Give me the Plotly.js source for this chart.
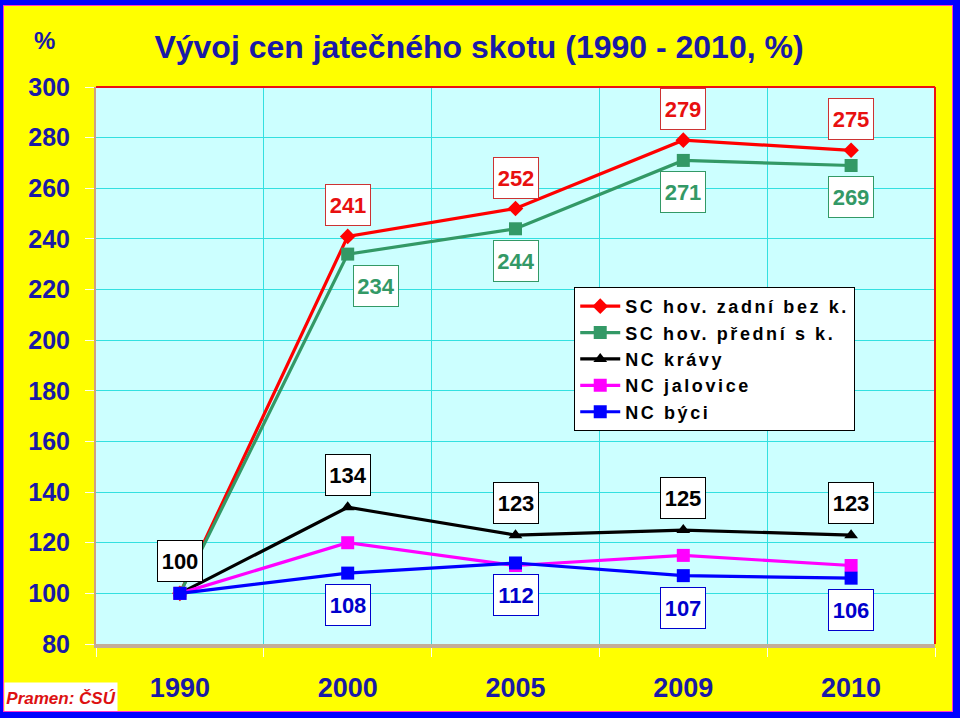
<!DOCTYPE html>
<html>
<head>
<meta charset="utf-8">
<script src="https://cdn.plot.ly/plotly-3.0.1.min.js"></script>
<style>
  html, body { margin: 0; padding: 0; background: #ffff00; }
  #wrap { position: relative; width: 960px; height: 718px; overflow: hidden; }
  #chart { position: absolute; left: 0; top: 0; width: 960px; height: 718px; }
  #frame { position: absolute; left: 0; top: 0; width: 960px; height: 718px; box-sizing: border-box;
           border-style: solid; border-color: #0000ff; border-width: 5px 7px 6px 3px; pointer-events: none; }
  #frame2 { position: absolute; left: 0; top: 0; right: 0; bottom: 0; border: 1.5px solid #ff33cc; }
  .legendtext { letter-spacing: 2.6px; }
</style>
</head>
<body>
<div id="wrap">
  <div id="chart"></div>
  <div id="frame"><div id="frame2"></div></div>
</div>
<script>
// ---- data ----
const years = ['1990', '2000', '2005', '2009', '2010'];
const seriesNames = ['SC hov. zadní bez k.', 'SC hov. přední s k.', 'NC krávy', 'NC jalovice', 'NC býci'];
const scZadni    = [100, 241, 252, 279, 275];
const scPredni   = [100, 234, 244, 271, 269];
const ncKravy    = [100, 134, 123, 125, 123];
const ncJalovice = [100, 120, 111, 115, 111];
const ncByci     = [100, 108, 112, 107, 106];
const yTicks = [80, 100, 120, 140, 160, 180, 200, 220, 240, 260, 280, 300];
const titleText = 'Vývoj cen jatečného skotu (1990 - 2010, %)';
const sourceText = 'Pramen: ČSÚ';

// which points carry value labels (index lists)
const labelIdxZadni  = [1, 2, 3, 4];
const labelIdxPredni = [1, 2, 3, 4];
const labelIdxKravy  = [0, 1, 2, 3, 4];
const labelIdxByci   = [1, 2, 3, 4];

const FONT = 'Liberation Sans, Arial, Helvetica, sans-serif';
const NAVY = '#1a1aa6';

const styles = [
  {color: '#ff0000', symbol: 'diamond', size: 12},
  {color: '#339966', symbol: 'square', size: 13},
  {color: '#000000', symbol: 'triangle-up', size: 12},
  {color: '#ff00ff', symbol: 'square', size: 13},
  {color: '#0000ff', symbol: 'square', size: 13}
];
const allSeries = [scZadni, scPredni, ncKravy, ncJalovice, ncByci];

const traces = allSeries.map((vals, i) => ({
  type: 'scatter', mode: 'lines+markers',
  x: years, y: vals, name: seriesNames[i],
  line: {color: styles[i].color, width: 3.2},
  marker: {color: styles[i].color, symbol: styles[i].symbol, size: styles[i].size, line: {width: 0}},
  hoverinfo: 'skip'
}));

function labels(vals, idxs, textColor, borderColor, yshift, xshiftFn) {
  return idxs.map(i => ({
    x: i, y: vals[i], xref: 'x', yref: 'y',
    text: String(vals[i]), showarrow: false,
    xanchor: 'center', yanchor: 'middle',
    xshift: xshiftFn ? xshiftFn(i) : 0, yshift: yshift,
    font: {family: FONT, size: 22, color: textColor, weight: 'bold'},
    bgcolor: '#ffffff', bordercolor: borderColor, borderwidth: 1, borderpad: 0,
    width: 44, height: 40
  }));
}

const annotations = [].concat(
  labels(scZadni, labelIdxZadni, '#e81010', '#cc3333', 31),
  labels(scPredni, labelIdxPredni, '#339966', '#339966', -32, i => (i === 1 ? 28 : 0)),
  labels(ncKravy, labelIdxKravy, '#000000', '#000000', 32),
  labels(ncByci, labelIdxByci, '#0000cc', '#0000cc', -32),
  [{
    xref: 'paper', yref: 'paper', x: -0.0415, y: -0.097, xanchor: 'center', yanchor: 'middle',
    text: '<i>' + sourceText + '</i>',
    showarrow: false, font: {family: FONT, size: 17, color: '#dd1111', weight: 'bold'},
    bgcolor: '#ffffff', borderpad: 0, width: 112, height: 30
  }, {
    xref: 'paper', yref: 'paper', x: -0.0608, y: 1.083, xanchor: 'center', yanchor: 'middle',
    text: '%',
    showarrow: false, font: {family: FONT, size: 24, color: NAVY, weight: 'bold'}
  }]
);

const layout = {
  width: 960, height: 718,
  paper_bgcolor: '#ffff00', plot_bgcolor: '#ccffff',
  margin: {l: 96, r: 25, t: 87, b: 74},
  title: {
    text: titleText, xref: 'container', yref: 'container',
    x: 479 / 960, y: 1 - 47 / 718, xanchor: 'center', yanchor: 'middle',
    font: {family: FONT, size: 32, color: NAVY, weight: 'bold'}
  },
  xaxis: {
    type: 'category', categoryorder: 'array', categoryarray: years,
    range: [-0.5, years.length - 0.5], autorange: false,
    tickson: 'boundaries', tickangle: 0,
    showgrid: true, gridcolor: '#33e0e0', gridwidth: 1,
    showline: true, linecolor: '#c4ae98', linewidth: 4,
    ticks: 'outside', ticklen: 9, tickcolor: '#ffffee', tickwidth: 1,
    ticklabelstandoff: 17,
    tickfont: {family: FONT, size: 27, color: NAVY, weight: 'bold'},
    zeroline: false, fixedrange: true
  },
  yaxis: {
    range: [80, 300], autorange: false, tickvals: yTicks, ticktext: yTicks.map(String),
    showgrid: true, gridcolor: '#33e0e0', gridwidth: 1,
    showline: true, linecolor: '#d0a080', linewidth: 2,
    ticks: 'outside', ticklen: 9, tickcolor: '#ffffee', tickwidth: 1,
    ticklabelstandoff: 10,
    tickfont: {family: FONT, size: 25, color: NAVY, weight: 'bold'},
    zeroline: false, fixedrange: true
  },
  shapes: [
    {type: 'line', xref: 'paper', yref: 'paper', x0: 0, x1: 1, y0: 1, y1: 1, line: {color: '#ee1111', width: 2}},
    {type: 'line', xref: 'paper', yref: 'paper', x0: 1, x1: 1, y0: 0, y1: 1, line: {color: '#ee1111', width: 2}}
  ],
  showlegend: true,
  legend: {
    x: 0.570, y: 0.641, xanchor: 'left', yanchor: 'top',
    bgcolor: '#ffffff', bordercolor: '#000000', borderwidth: 1,
    font: {family: FONT, size: 18, color: '#000000', weight: 'bold'},
    itemwidth: 40, tracegroupgap: 0
  },
  annotations: annotations
};

Plotly.newPlot('chart', traces, layout, {staticPlot: true, displayModeBar: false});
</script>
</body>
</html>
